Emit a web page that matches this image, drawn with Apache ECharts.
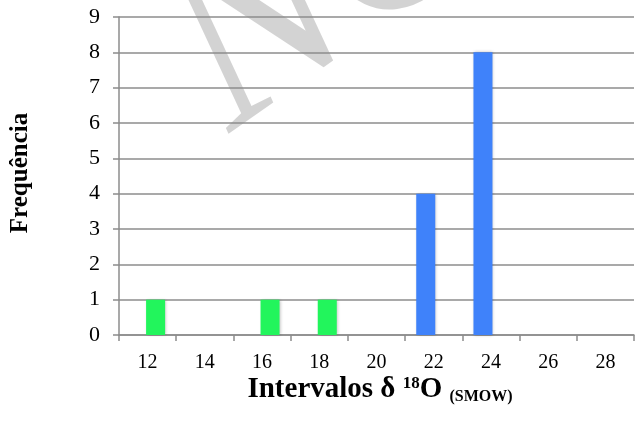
<!DOCTYPE html>
<html>
<head>
<meta charset="utf-8">
<script src="https://cdn.jsdelivr.net/npm/echarts@6/dist/echarts.min.js"></script>
<style>html,body{margin:0;padding:0;background:#fff;}#c{width:641px;height:428px;}</style>
</head>
<body>
<div id="c"></div>
<script>
var categories = ['12','14','16','18','20','22','24','26','28'];
var blueValues = [null,null,null,null,null,4,8,null,null];
var greenValues = [1,null,1,1,null,null,null,null,null];
var yTicks = [0,1,2,3,4,5,6,7,8,9];

var serif = '"Liberation Serif", "Times New Roman", serif';
var chart = echarts.init(document.getElementById('c'), null, {renderer:'canvas'});
chart.setOption({
  animation: false,
  backgroundColor: '#fff',
  grid: {left: 119, right: 7, top: 17, bottom: 93, containLabel: false},
  xAxis: {
    type: 'category',
    data: categories,
    boundaryGap: true,
    axisLine: {show: true, lineStyle: {color: '#8c8c8c', width: 1.5}},
    axisTick: {show: true, length: 6, alignWithLabel: false, lineStyle: {color: '#8c8c8c', width: 1.5}},
    axisLabel: {color: '#000', fontFamily: serif, fontSize: 20, margin: 18},
    splitLine: {show: false}
  },
  yAxis: {
    type: 'value',
    min: yTicks[0], max: yTicks[yTicks.length-1], interval: 1,
    axisLine: {show: true, lineStyle: {color: '#8c8c8c', width: 1.5}},
    axisTick: {show: true, length: 6, lineStyle: {color: '#8c8c8c', width: 1.5}},
    axisLabel: {color: '#000', fontFamily: serif, fontSize: 22, margin: 19},
    splitLine: {show: true, lineStyle: {color: '#8c8c8c', width: 1.5}}
  },
  graphic: [
    {type: 'text', z: -10, x: 193, y: 80, rotation: 0.61, silent: true,
     style: {text: 'NO', fontFamily: serif, fontStyle: 'italic', fontSize: 245, fill: 'rgba(150,150,150,0.42)', align: 'left', verticalAlign: 'middle'}},
    {type: 'text', x: 21, y: 173, rotation: Math.PI/2,
     style: {text: 'Frequência', fontFamily: serif, fontWeight: 'bold', fontSize: 25, fill: '#000', align: 'center', verticalAlign: 'middle'}},
    {type: 'text', x: 380, y: 390,
     style: {text: 'Intervalos δ {sup|18}O {sub|(SMOW)}', fontFamily: serif, fontWeight: 'bold', fontSize: 29, fill: '#000', align: 'center', verticalAlign: 'middle',
       rich: {
         sup: {fontFamily: serif, fontWeight: 'bold', fontSize: 17, verticalAlign: 'top', padding: [0,0,11,0]},
         sub: {fontFamily: serif, fontWeight: 'bold', fontSize: 16, verticalAlign: 'bottom', padding: [13,0,0,0]}
       }}}
  ],
  series: [
    {type: 'bar', data: blueValues, barWidth: 19, barGap: '-16%', itemStyle: {color: '#3f82fa', shadowBlur: 3, shadowColor: 'rgba(0,0,0,0.25)', shadowOffsetX: 1}},
    {type: 'bar', data: greenValues, barWidth: 19, barGap: '-16%', itemStyle: {color: '#22f55c', shadowBlur: 3, shadowColor: 'rgba(0,0,0,0.25)', shadowOffsetX: 1}}
  ]
});
</script>
</body>
</html>
